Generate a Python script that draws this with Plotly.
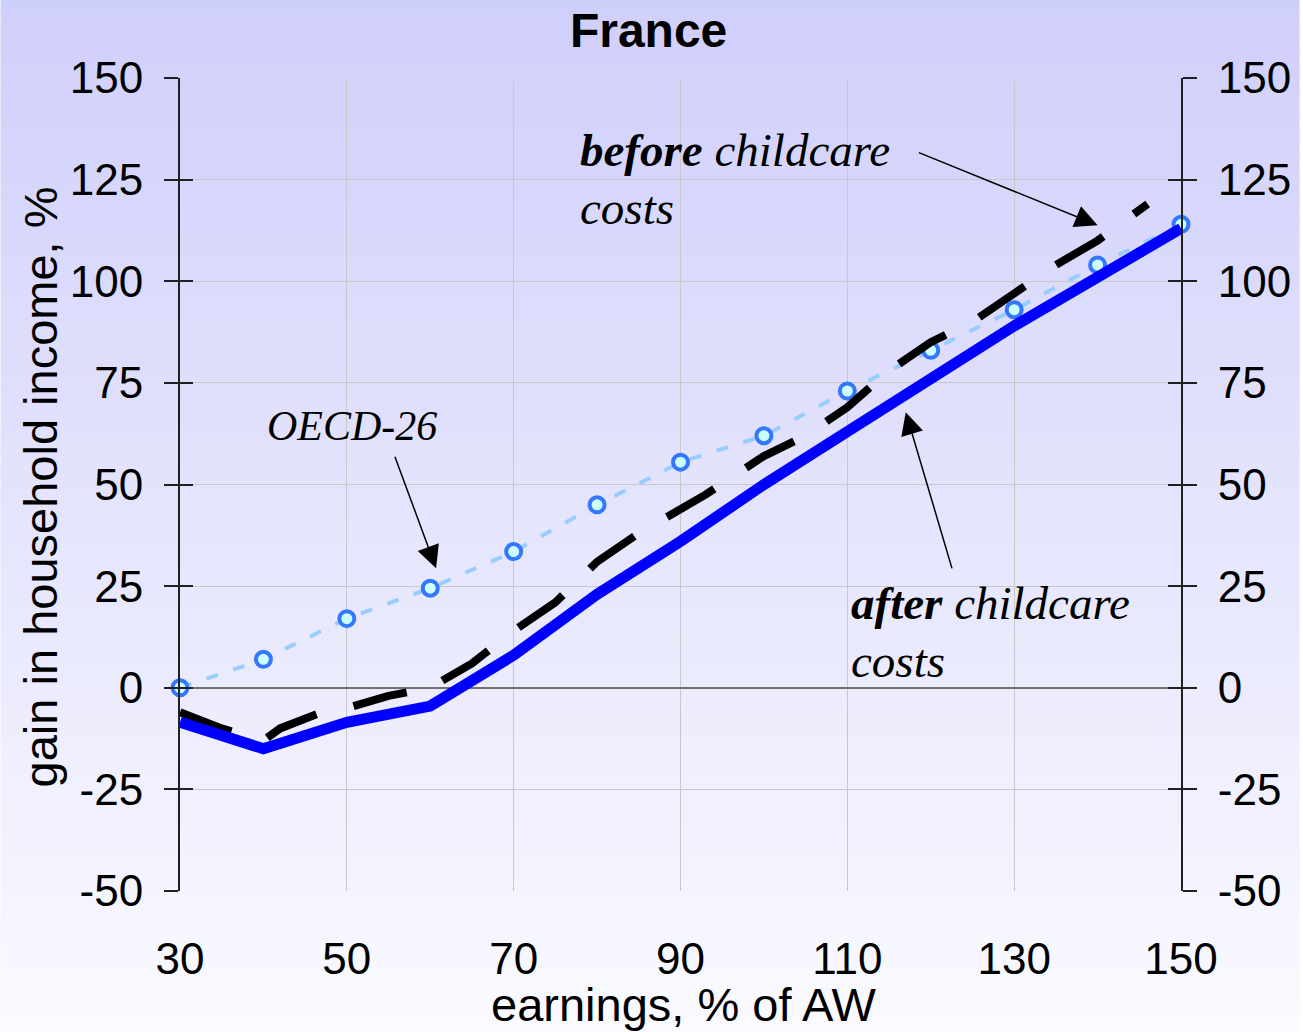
import plotly.graph_objects as go

# earnings as % of average wage
earn = [30, 40, 50, 60, 70, 80, 90, 100, 110, 120, 130, 140, 150]
after_cc = [-8.5, -15, -8.5, -4.5, 8, 23, 36, 50, 63, 76, 89, 101, 113]
oecd26 = [0, 7, 17, 24.5, 33.5, 45, 55.5, 62, 73, 83, 93, 104, 114]

earn_b = [30, 35, 40, 42, 47, 50, 55, 60, 65, 70, 75, 80, 85, 90, 93, 100,
          105, 110, 115, 120, 125, 130, 135, 140, 145, 146]
before_cc = [-6, -10, -13, -10, -6, -5, -2, 0, 6, 14, 21, 31, 38, 44, 47.5, 57,
             62, 69, 78, 85, 90, 97, 104, 110, 118, 119]

yticks = [-50, -25, 0, 25, 50, 75, 100, 125, 150]
ytext = ["-50", "-25", "0", "25", "50", "75", "100", "125", "150"]

W, H = 1303, 1032
L, R, T, B = 180, 119, 78, 141
pw, ph = W - L - R, H - T - B

fig = go.Figure()

# background gradient
top_c = (207, 207, 251)
bot_c = (250, 250, 255)
n = 80
for i in range(n):
    t = i / (n - 1)
    c = tuple(int(round(top_c[k] + (bot_c[k] - top_c[k]) * t)) for k in range(3))
    y1 = 1 + T / ph - i * (H / ph) / n
    y0 = y1 - (H / ph) / n - 0.002
    fig.add_shape(type="rect", xref="paper", yref="paper",
                  x0=-L / pw, x1=1 + R / pw, y0=y0, y1=y1,
                  fillcolor="rgb(%d,%d,%d)" % c, line_width=0, layer="below")

fig.add_trace(go.Scatter(x=earn, y=oecd26, mode="lines+markers", name="OECD-26",
                         line=dict(color="#99ccff", width=4, dash="12px,16px"),
                         marker=dict(size=15, color="#ccffff",
                                     line=dict(color="#3377ff", width=4)),
                         cliponaxis=False))
fig.add_trace(go.Scatter(x=earn_b, y=before_cc, mode="lines", name="before",
                         line=dict(color="black", width=8, dash="55px,38px"),
                         cliponaxis=False))
fig.add_trace(go.Scatter(x=earn, y=after_cc, mode="lines", name="after",
                         line=dict(color="#0000ff", width=11), cliponaxis=False))
for ax in ["y2", "y3", "y4"]:
    fig.add_trace(go.Scatter(x=[30], y=[0], yaxis=ax, mode="markers",
                             marker=dict(opacity=0), showlegend=False, hoverinfo="skip"))

sans = "Liberation Sans, Arial, sans-serif"
serif = "Liberation Serif, Times New Roman, serif"

fig.update_layout(
    width=W, height=H,
    margin=dict(l=L, r=R, t=T, b=B),
    paper_bgcolor="white", plot_bgcolor="rgba(0,0,0,0)",
    showlegend=False,
    font=dict(family=sans, color="black"),
    title=dict(text="<b>France</b>", x=(650 - L) / pw, xref="paper", xanchor="center",
               y=1 - 30 / H, yanchor="middle", font=dict(size=48, family=sans)),
    xaxis=dict(range=[30, 150], tickvals=[30, 50, 70, 90, 110, 130, 150],
               showgrid=True, gridcolor="#c8c8c8", gridwidth=1,
               zeroline=False, showline=False, ticks="",
               tickfont=dict(size=44), ticklabelstandoff=38),
    yaxis=dict(range=[-50, 150], tickvals=yticks, ticktext=ytext,
               showgrid=True, gridcolor="#c8c8c8", gridwidth=1,
               zeroline=True, zerolinecolor="#707070", zerolinewidth=2,
               showline=True, linecolor="#202020", linewidth=2,
               ticks="outside", ticklen=14, tickcolor="#202020", tickwidth=2,
               tickfont=dict(size=44), ticklabelstandoff=12),
    yaxis2=dict(range=[-50, 150], tickvals=yticks, ticktext=ytext,
                overlaying="y", side="right",
                showgrid=False, zeroline=False,
                showline=True, linecolor="#202020", linewidth=2,
                ticks="outside", ticklen=14, tickcolor="#202020", tickwidth=2,
                tickfont=dict(size=44), ticklabelstandoff=12),
    yaxis3=dict(range=[-50, 150], tickvals=yticks, overlaying="y", side="left",
                showgrid=False, zeroline=False, showticklabels=False,
                ticks="inside", ticklen=13, tickcolor="#202020", tickwidth=2),
    yaxis4=dict(range=[-50, 150], tickvals=yticks, overlaying="y", side="right",
                showgrid=False, zeroline=False, showticklabels=False,
                ticks="inside", ticklen=13, tickcolor="#202020", tickwidth=2),
)

# axis titles
fig.add_annotation(text="gain in household income, %", xref="paper", yref="paper",
                   x=(40 - L) / pw, y=(H - B - 487) / ph, textangle=-90,
                   showarrow=False, font=dict(size=47, family=sans),
                   xanchor="center", yanchor="middle")
fig.add_annotation(text="earnings, % of AW", xref="paper", yref="paper",
                   x=(686 - L) / pw, y=(H - B - 1005) / ph,
                   showarrow=False, font=dict(size=47, family=sans),
                   xanchor="center", yanchor="middle")

# labels
lab = dict(xanchor="left", yanchor="middle", align="left", showarrow=False,
           font=dict(size=47, family=serif))
fig.add_annotation(text="<b><i>before</i></b><i> childcare</i>", x=77.7, y=132.3, **lab)
fig.add_annotation(text="<i>costs</i>", x=77.7, y=118.0, **lab)
fig.add_annotation(text="<b><i>after</i></b><i> childcare</i>", x=110.2, y=20.8, **lab)
fig.add_annotation(text="<i>costs</i>", x=110.2, y=6.6, **lab)
fig.add_annotation(text="<i>OECD-26</i>", x=40.2, y=64.5, xanchor="left",
                   yanchor="middle", showarrow=False, font=dict(size=42, family=serif))

# arrows
arrow = dict(text="", showarrow=True, arrowhead=2, arrowsize=3, arrowwidth=1.5,
             arrowcolor="black", axref="x", ayref="y")
fig.add_annotation(x=140.0, y=113.8, ax=118.4, ay=131.8, **arrow)
fig.add_annotation(x=60.7, y=29.4, ax=55.7, ay=57.2, **arrow)
fig.add_annotation(x=117.0, y=67.8, ax=122.6, ay=29.0, **arrow)

fig.write_html("out.html", config={"displayModeBar": False},
               post_script="document.body.style.margin='0';")
